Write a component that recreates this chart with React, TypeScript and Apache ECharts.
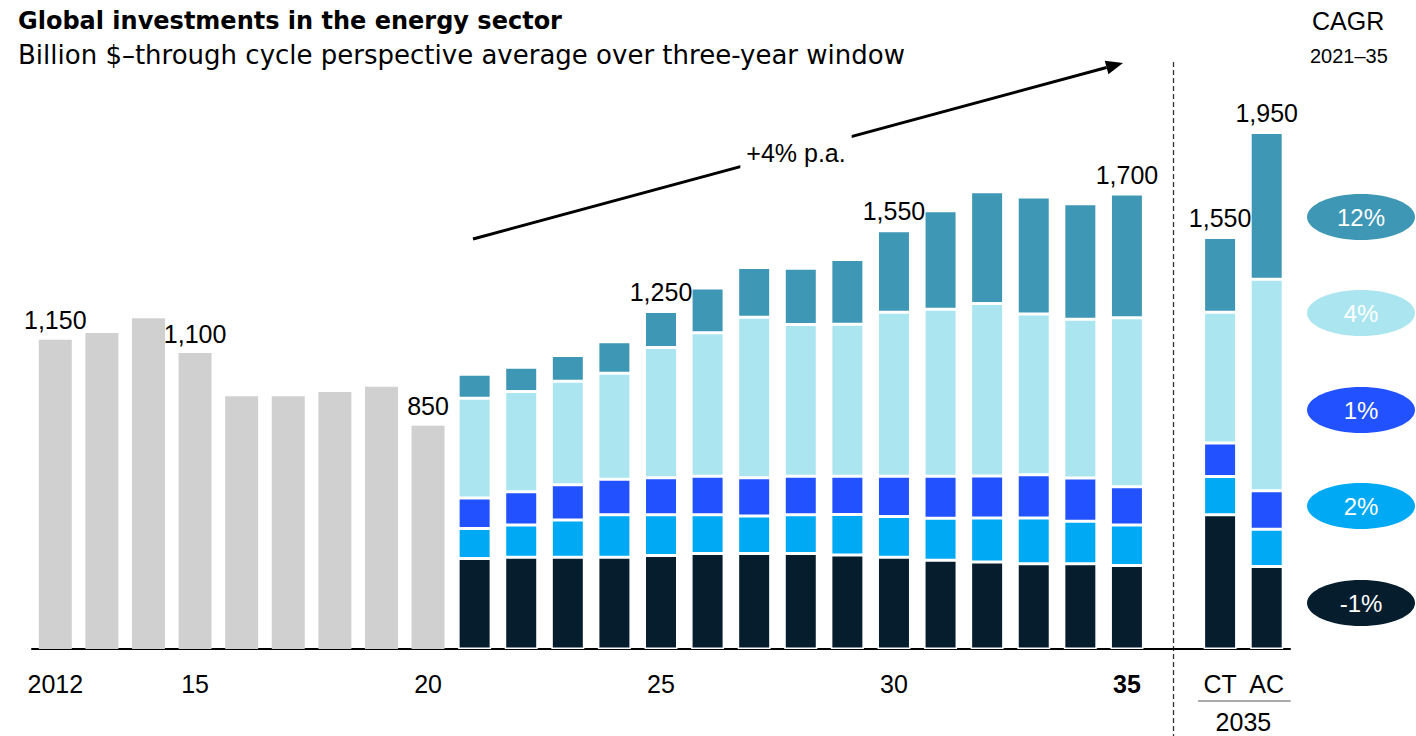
import React, { useEffect, useRef } from 'react';
import * as echarts from 'echarts';

// ---------- data ----------
const categories = [
  '2012', '2013', '2014', '2015', '2016', '2017', '2018', '2019', '2020',
  '2021', '2022', '2023', '2024', '2025', '2026', '2027', '2028', '2029',
  '2030', '2031', '2032', '2033', '2034', '2035', '', 'CT', 'AC',
];
const tickLabels = [
  '2012', '', '', '15', '', '', '', '', '20',
  '', '', '', '', '25', '', '', '', '',
  '30', '', '', '', '', '35', '', 'CT', 'AC',
];
const boldTicks = ['35'];

// 2012–2020 historical totals
const historical = [1150, 1175, 1230, 1100, 940, 940, 955, 975, 830];

// 2021–2035, then CT, AC (2035 scenarios)
const segNavy = [336, 341, 341, 341, 348, 355, 355, 355, 349, 341, 330, 323, 317, 317, 310, 499, 307];
const segCyan = [112, 120, 139, 158, 151, 144, 139, 144, 151, 152, 156, 164, 170, 158, 151, 142, 138];
const segBlue = [113, 124, 131, 132, 138, 143, 143, 143, 142, 149, 156, 156, 161, 161, 142, 125, 143];
const segLight = [371, 372, 384, 394, 484, 534, 596, 564, 565, 610, 621, 641, 597, 590, 628, 486, 787];
const segTeal = [89, 90, 96, 117, 134, 166, 185, 209, 241, 303, 366, 416, 435, 429, 460, 278, 545];

const totalLabels = [
  '1,150', '', '', '1,100', '', '', '', '', '850',
  '', '', '', '', '1,250', '', '', '', '',
  '1,550', '', '', '', '', '1,700', '', '1,550', '1,950',
];

const cagrLabels = ['12%', '4%', '1%', '2%', '-1%'];
const growthLabel = '+4% p.a.';
const title = 'Global investments in the energy sector';
const subtitle = 'Billion $\u2013through cycle perspective average over three-year window';

// ---------- styling ----------
const FONT = '"Liberation Sans", Arial, sans-serif';
const WIDE = '"DejaVu Sans", "Liberation Sans", sans-serif';
const C_NAVY = '#061D2E';
const C_CYAN = '#00A9F4';
const C_BLUE = '#2251FF';
const C_LIGHT = '#ABE6F0';
const C_TEAL = '#3E97B5';
const C_GRAY = '#D0D0D0';
const cagrColors = [C_TEAL, C_LIGHT, C_BLUE, C_CYAN, C_NAVY];

const N_HIST = historical.length;
const GAP_INDEX = 24;

function padSeg(arr: number[]) {
  const out: (number | string)[] = [];
  for (let i = 0; i < N_HIST; i++) out.push('-');
  for (let i = 0; i < 15; i++) out.push(arr[i]);
  out.push('-');
  out.push(arr[15], arr[16]);
  return out;
}

const labelStyle = {
  position: 'top' as const,
  distance: 7,
  fontSize: 25,
  color: '#000',
  fontFamily: FONT,
};

export default function App() {
  const ref = useRef<HTMLDivElement>(null);

  useEffect(() => {
    document.body.style.margin = '0';
    if (!ref.current) return;
    const chart = echarts.init(ref.current, undefined, { renderer: 'svg' });

    const grayData = categories.map((_, i) => {
      if (i < N_HIST) {
        return {
          value: historical[i],
          label: { show: !!totalLabels[i], formatter: totalLabels[i], ...labelStyle },
        };
      }
      return { value: 0 };
    });

    const tealRaw = padSeg(segTeal);
    const tealData = tealRaw.map((v, i) => {
      if (v === '-') return '-';
      return {
        value: v,
        label: { show: !!totalLabels[i], formatter: totalLabels[i], ...labelStyle },
      };
    });

    const segItem = (color: string) => ({
      color,
      borderColor: '#fff',
      borderWidth: 1.5,
    });

    const option: any = {
      animation: false,
      grid: { left: 32, right: 126, top: 111, bottom: 87 },
      xAxis: {
        type: 'category',
        data: categories,
        axisTick: { show: false },
        axisLine: { lineStyle: { color: '#000', width: 2 } },
        axisLabel: {
          interval: 0,
          margin: 22,
          fontSize: 25,
          color: '#000',
          fontFamily: FONT,
          formatter: (_v: string, i: number) => {
            const t = tickLabels[i] || '';
            return boldTicks.includes(t) ? `{b|${t}}` : t;
          },
          rich: {
            b: { fontSize: 25, fontWeight: 'bold', color: '#000', fontFamily: FONT },
          },
        },
      },
      yAxis: {
        type: 'value',
        min: 0,
        max: 2000,
        show: false,
        splitLine: { show: false },
      },
      series: [
        {
          type: 'bar',
          stack: 'total',
          barWidth: 33,
          data: grayData,
          itemStyle: { color: C_GRAY },
          silent: true,
        },
        { type: 'bar', stack: 'total', barWidth: 33, data: padSeg(segNavy), itemStyle: segItem(C_NAVY) },
        { type: 'bar', stack: 'total', barWidth: 33, data: padSeg(segCyan), itemStyle: segItem(C_CYAN) },
        { type: 'bar', stack: 'total', barWidth: 33, data: padSeg(segBlue), itemStyle: segItem(C_BLUE) },
        { type: 'bar', stack: 'total', barWidth: 33, data: padSeg(segLight), itemStyle: segItem(C_LIGHT) },
        { type: 'bar', stack: 'total', barWidth: 33, data: tealData, itemStyle: segItem(C_TEAL) },
      ],
    };
    chart.setOption(option);

    const gapX = chart.convertToPixel({ xAxisIndex: 0 }, GAP_INDEX) as number;
    const ctX = chart.convertToPixel({ xAxisIndex: 0 }, 25) as number;
    const acX = chart.convertToPixel({ xAxisIndex: 0 }, 26) as number;

    // arrow geometry
    const x1 = 473, y1 = 239, x2 = 1123, y2 = 63;
    const dx = x2 - x1, dy = y2 - y1;
    const len = Math.sqrt(dx * dx + dy * dy);
    const ux = dx / len, uy = dy / len;
    const px = -uy, py = ux;
    const headL = 17, headW = 7;
    const bx = x2 - ux * headL, by = y2 - uy * headL;

    const graphics: any[] = [
      {
        type: 'text', left: 18, top: 9,
        style: { text: title, font: `bold 24px ${WIDE}`, fill: '#000' },
      },
      {
        type: 'text', left: 18, top: 42,
        style: { text: subtitle, font: `26px ${WIDE}`, fill: '#000' },
      },
      {
        type: 'text', left: 1312, top: 8,
        style: { text: 'CAGR', font: `25px ${FONT}`, fill: '#000' },
      },
      {
        type: 'text', left: 1310, top: 46,
        style: { text: '2021\u201335', font: `20px ${FONT}`, fill: '#000' },
      },
      {
        type: 'line',
        shape: { x1: gapX, y1: 62, x2: gapX, y2: 736 },
        style: { stroke: '#333', lineWidth: 1.3, lineDash: [5, 3] },
      },
      {
        type: 'line',
        shape: { x1, y1, x2: bx, y2: by },
        style: { stroke: '#000', lineWidth: 3 },
      },
      {
        type: 'polygon',
        shape: {
          points: [
            [x2, y2],
            [bx + px * headW, by + py * headW],
            [bx - px * headW, by - py * headW],
          ],
        },
        style: { fill: '#000' },
      },
      {
        type: 'text',
        x: 796, y: 153,
        style: {
          text: growthLabel,
          font: `25px ${FONT}`,
          fill: '#000',
          align: 'center',
          verticalAlign: 'middle',
          backgroundColor: '#fff',
          padding: [6, 6],
        },
      },
      {
        type: 'line',
        shape: { x1: ctX - 22, y1: 701, x2: acX + 24, y2: 701 },
        style: { stroke: '#aaa', lineWidth: 2 },
      },
      {
        type: 'text',
        x: (ctX + acX) / 2, y: 722,
        style: {
          text: '2035', font: `25px ${FONT}`, fill: '#000',
          align: 'center', verticalAlign: 'middle',
        },
      },
    ];

    const ellipseYs = [217, 313, 410, 506, 603];
    cagrLabels.forEach((t, i) => {
      graphics.push({
        type: 'ellipse',
        shape: { cx: 1361, cy: ellipseYs[i], rx: 54, ry: 23 },
        style: { fill: cagrColors[i] },
      });
      graphics.push({
        type: 'text',
        x: 1361, y: ellipseYs[i],
        style: {
          text: t, font: `24px ${FONT}`, fill: '#fff',
          align: 'center', verticalAlign: 'middle',
        },
      });
    });

    chart.setOption({ graphic: graphics });

    return () => chart.dispose();
  }, []);

  return <div ref={ref} style={{ width: 1416, height: 736 }} />;
}
